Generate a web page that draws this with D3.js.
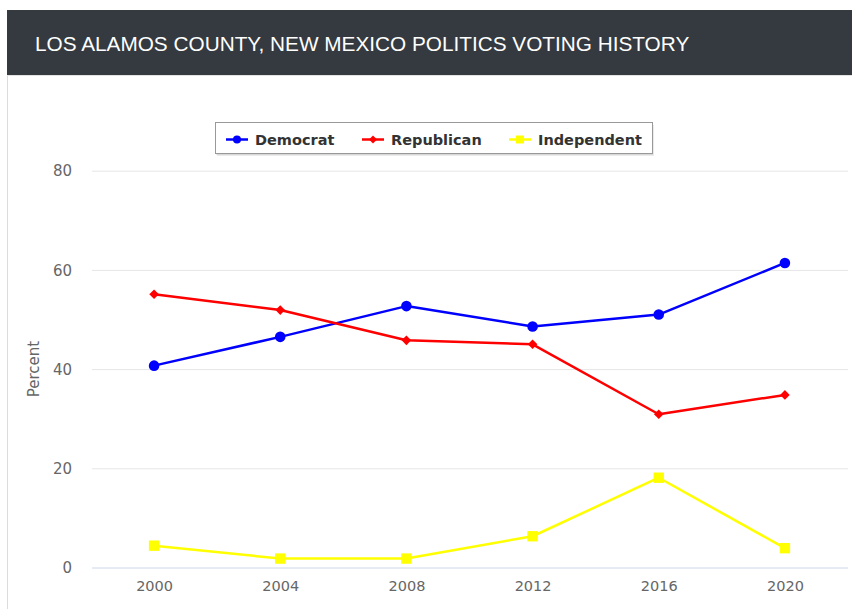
<!DOCTYPE html>
<html><head><meta charset="utf-8">
<script src="https://cdn.jsdelivr.net/npm/d3@7"></script>
<style>
html,body{margin:0;padding:0;background:#fff;}
svg{display:block;}
</style></head>
<body>
<svg id="c" width="852" height="609"></svg>
<script>
const title = "LOS ALAMOS COUNTY, NEW MEXICO POLITICS VOTING HISTORY";
const years = ["2000","2004","2008","2012","2016","2020"];
const democrat = [40.7, 46.5, 52.7, 48.6, 51.0, 61.4];
const republican = [55.1, 51.9, 45.8, 45.0, 30.9, 34.8];
const independent = [4.4, 1.8, 1.8, 6.3, 18.1, 3.9];
const seriesNames = ["Democrat","Republican","Independent"];
const seriesColors = ["#0000ff","#ff0000","#ffff00"];
const seriesSymbols = ["circle","diamond","square"];
const yTicks = [0,20,40,60,80];
const yTitle = "Percent";

const series = seriesNames.map((n,i)=>({name:n,color:seriesColors[i],symbol:seriesSymbols[i],values:[democrat,republican,independent][i]}));

const svg = d3.select("#c");

// card border + header
svg.append("rect").attr("x",7.5).attr("y",10.5).attr("width",860).attr("height",620)
  .attr("fill","#fff").attr("stroke","#dcdcdc");
svg.append("rect").attr("x",7).attr("y",10).attr("width",845).attr("height",65).attr("fill","#343a40");
svg.append("line").attr("x1",7).attr("x2",852).attr("y1",75.5).attr("y2",75.5).attr("stroke","#e3e3e3");
const tt = svg.append("text").attr("x",35).attr("y",50.5).attr("fill","#fff")
  .style("font-family","'Liberation Sans', Arial, sans-serif").style("font-size","20px").text(title);
const tw = tt.node().getComputedTextLength();
tt.style("font-size",(20*655/tw)+"px");

const x = d3.scalePoint().domain(years).range([91,848]).padding(0.5);
const y = d3.scaleLinear().domain([0,80]).range([567.5,170.7]);

const font = "'DejaVu Sans', 'Lucida Grande', sans-serif";

// gridlines
const gy = svg.append("g")
  .call(d3.axisLeft(y).tickValues(yTicks).tickSize(-(848-92)).tickFormat(d3.format("d")))
  .attr("transform","translate(92,0)");
gy.select(".domain").remove();
gy.selectAll(".tick line").attr("stroke","#e6e6e6").attr("stroke-width",1);
gy.selectAll(".tick text").attr("x",-20).attr("fill","#666").style("font-family",font).style("font-size","15px").attr("dy","0.35em");
gy.selectAll(".tick").filter(d=>d===0).select("line").attr("stroke","#ccd6eb");

// x axis labels
const gx = svg.append("g").attr("transform","translate(0,567.5)")
  .call(d3.axisBottom(x).tickSize(0).tickPadding(13));
gx.select(".domain").remove();
gx.selectAll(".tick text").attr("fill","#666").style("font-family",font).style("font-size","14.5px");

// y title
svg.append("text").attr("transform","translate(39,369) rotate(-90)").attr("text-anchor","middle")
  .attr("fill","#666").style("font-family",font).style("font-size","15px").text(yTitle);

function symPath(sym, r){
  if (sym==="circle") return d3.symbol().type(d3.symbolCircle).size(Math.PI*r*r)();
  if (sym==="diamond") return `M0,${-r}L${r},0L0,${r}L${-r},0Z`;
  return `M${-r},${-r}H${r}V${r}H${-r}Z`;
}
const symR = {circle: 5.3, diamond: 4.8, square: 5.2};
const legR = {circle: 4, diamond: 4, square: 4};

const line = d3.line().x((d,i)=>x(years[i])).y(d=>y(d));
series.forEach(s=>{
  const g = svg.append("g");
  g.append("path").datum(s.values).attr("d",line).attr("fill","none").attr("stroke",s.color).attr("stroke-width",2.5).attr("stroke-linejoin","round");
  g.selectAll("path.m").data(s.values).enter().append("path").attr("class","m")
    .attr("transform",(d,i)=>`translate(${x(years[i])},${y(d)})`)
    .attr("d",symPath(s.symbol, symR[s.symbol])).attr("fill",s.color);
});

// legend
const lg = svg.append("g");
lg.append("rect").attr("x",217).attr("y",125).attr("width",437).attr("height",31).attr("fill","#000").attr("opacity",0.08);
lg.append("rect").attr("x",216).attr("y",124).attr("width",437).attr("height",31).attr("fill","#000").attr("opacity",0.08);
lg.append("rect").attr("x",215.5).attr("y",122.5).attr("width",437).attr("height",31).attr("fill","#fff").attr("stroke","#999").attr("stroke-width",1);
const legendX = [226, 362, 509];
series.forEach((s,i)=>{
  const lx = legendX[i];
  lg.append("line").attr("x1",lx).attr("x2",lx+22).attr("y1",139.5).attr("y2",139.5).attr("stroke",s.color).attr("stroke-width",2.5);
  lg.append("path").attr("transform",`translate(${lx+11},139.5)`).attr("d",symPath(s.symbol, legR[s.symbol])).attr("fill",s.color);
  lg.append("text").attr("x",lx+29).attr("y",145.3).attr("fill","#333").style("font-family",font)
    .style("font-weight","bold").style("font-size","14.5px").text(s.name);
});
</script>
</body></html>
